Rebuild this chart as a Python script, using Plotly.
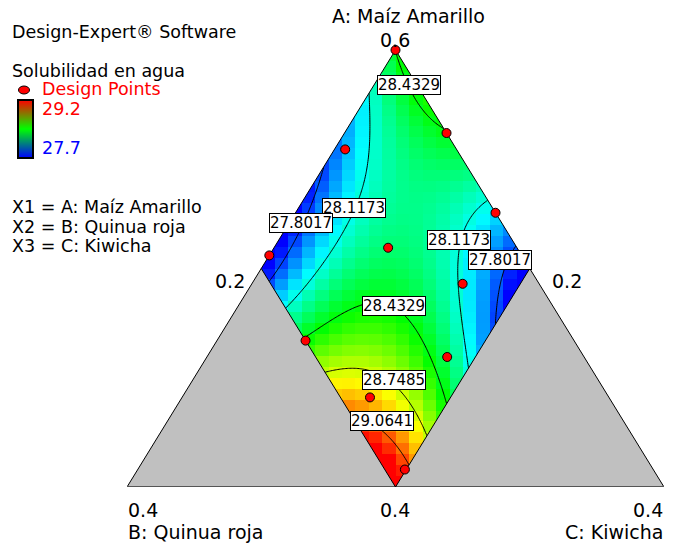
import numpy as np
import plotly.graph_objects as go

# ---------------------------------------------------------------
# Mixture: A (Maíz Amarillo) + B (Quinua roja) + C (Kiwicha) = 0.6
# A is 0.2..0.6, B and C are 0..0.2 inside the constrained region
# ---------------------------------------------------------------
TOTAL = 0.6
B_VERTEX = 0.4   # B value at the lower-left corner of the full triangle
C_VERTEX = 0.4   # C value at the lower-right corner

# Solubilidad en agua: response readings (B, C real fractions -> value)
samp_B = [0.116, 0.143, 0.180, 0.200, 0.000, 0.024, 0.039, 0.052,
          0.035, 0.057, 0.080, 0.105, 0.120, 0.145, 0.182, 0.200,
          0.000, 0.021, 0.052, 0.068, 0.081, 0.091,
          0.004, 0.006, 0.008, 0.007, 0.000, 0.200, 0.166, 0.144,
          0.117, 0.117, 0.113, 0.115, 0.122, 0.125,
          0.200, 0.182, 0.174, 0.153, 0.150, 0.154,
          0.200, 0.186, 0.180, 0.178, 0.177,
          0.000, 0.200, 0.000, 0.200, 0.097, 0.000, 0.083, 0.030]
samp_C = [0.000, 0.008, 0.012, 0.013, 0.180, 0.180, 0.190, 0.200,
          0.000, 0.016, 0.039, 0.048, 0.048, 0.048, 0.040, 0.035,
          0.133, 0.132, 0.147, 0.161, 0.180, 0.200,
          0.005, 0.020, 0.030, 0.048, 0.068, 0.061, 0.079, 0.091,
          0.114, 0.128, 0.150, 0.171, 0.192, 0.200,
          0.093, 0.110, 0.124, 0.155, 0.176, 0.200,
          0.136, 0.162, 0.176, 0.188, 0.200,
          0.000, 0.000, 0.200, 0.200, 0.104, 0.036, 0.008, 0.171]
samp_y = [27.8017] * 8 + [28.1173] * 14 + [28.4329] * 14 + [28.7485] * 6 + \
         [29.0641] * 5 + [28.42, 27.62, 27.62, 29.30, 28.40, 28.52, 27.95, 27.95]

# Design points (B, C real fractions; A = 0.6 - B - C)
dp_B = [0.000, 0.000, 0.083, 0.000, 0.188, 0.096, 0.057, 0.200, 0.102, 0.178, 0.185]
dp_C = [0.000, 0.076, 0.008, 0.149, 0.000, 0.085, 0.157, 0.066, 0.179, 0.140, 0.199]

contour_levels = [27.8017, 28.1173, 28.4329, 28.7485, 29.0641]
z_low, z_high = 27.7, 29.2


# --- response surface: quartic polynomial fitted to the readings ---
def basis(p, q):
    cols = []
    for i in range(5):
        for j in range(5 - i):
            cols.append((p ** i) * (q ** j))
    return np.stack(cols, axis=-1)


P = np.array(samp_B) / 0.2
Q = np.array(samp_C) / 0.2
coef, *_ = np.linalg.lstsq(basis(P, Q), np.array(samp_y), rcond=None)


def surface(x, y):
    """x, y: cartesian frame of the triangle (x = c - b, y = a)."""
    b = (1 - y - x) / 2
    c = (1 - y + x) / 2
    p = np.clip(2 * b, 0, 1)
    q = np.clip(2 * c, 0, 1)
    return basis(p, q) @ coef


def to_xy(B, C):
    b = np.asarray(B) / B_VERTEX
    c = np.asarray(C) / C_VERTEX
    return c - b, 1 - b - c


# coarse cells for the colour map
xc = np.arange(-0.475, 0.5, 0.05)
yc = np.arange(0.0125, 1.0, 0.025)
XC, YC = np.meshgrid(xc, yc)
ZC = surface(XC, YC)

# fine grid for contour lines
xf = np.linspace(-0.52, 0.52, 209)
yf = np.linspace(0.0, 1.0, 201)
XF, YF = np.meshgrid(xf, yf)
ZF = surface(XF, YF)

cscale = [[0.0, "rgb(0,0,255)"], [0.25, "rgb(0,255,255)"], [0.5, "rgb(0,255,0)"],
          [0.75, "rgb(255,255,0)"], [1.0, "rgb(255,0,0)"]]

fig = go.Figure()
fig.add_trace(go.Heatmap(x=xc, y=yc, z=ZC, colorscale=cscale, zmin=z_low, zmax=z_high,
                         showscale=False, hoverinfo="skip"))
fig.add_trace(go.Contour(x=xf, y=yf, z=ZF, showscale=False, hoverinfo="skip",
                         colorscale=[[0, "black"], [1, "black"]],
                         contours=dict(coloring="lines", start=contour_levels[0],
                                       end=contour_levels[-1] + 0.001,
                                       size=contour_levels[1] - contour_levels[0],
                                       showlabels=False),
                         line=dict(width=1)))

# masks: white outside the full triangle, grey for the excluded corners
def poly(xs, ys, color):
    fig.add_trace(go.Scatter(x=xs, y=ys, fill="toself", fillcolor=color, mode="lines",
                             line=dict(width=0, color=color), hoverinfo="skip",
                             showlegend=False))

poly([-0.6, 0.0, 0.0, -0.6, -0.6], [0.4, 1.0, 1.05, 1.05, 0.4], "white")
poly([0.6, 0.0, 0.0, 0.6, 0.6], [0.4, 1.0, 1.05, 1.05, 0.4], "white")
poly([-1.0, -0.5, 0.0, -1.0], [0.0, 0.5, 0.0, 0.0], "#C0C0C0")
poly([0.0, 0.5, 1.0, 0.0], [0.0, 0.5, 0.0, 0.0], "#C0C0C0")

# outlines
fig.add_trace(go.Scatter(x=[-1, 0, 1], y=[0, 1, 0], mode="lines",
                         line=dict(color="black", width=1), hoverinfo="skip", cliponaxis=False))
fig.add_trace(go.Scatter(x=[-1, 1], y=[0, 0], mode="lines",
                         line=dict(color="#555555", width=2), hoverinfo="skip", cliponaxis=False))
fig.add_trace(go.Scatter(x=[-0.5, 0, 0.5], y=[0.5, 0, 0.5], mode="lines",
                         line=dict(color="black", width=1), hoverinfo="skip"))

# design points
dx, dy = to_xy(dp_B, dp_C)
fig.add_trace(go.Scatter(x=dx, y=dy, mode="markers", cliponaxis=False, hoverinfo="skip",
                         marker=dict(size=9, color="red", line=dict(color="black", width=1))))

# contour value boxes
label_pos = [(28.4329, 0.050, 0.921), (28.1173, -0.153, 0.638), (27.8017, -0.352, 0.603),
             (28.1173, 0.238, 0.566), (27.8017, 0.389, 0.519), (28.4329, -0.007, 0.415),
             (28.7485, -0.004, 0.244), (29.0641, -0.052, 0.150)]
annotations = []
for val, lx, ly in label_pos:
    annotations.append(dict(x=lx, y=ly, xref="x", yref="y", text=f"{val:.4f}",
                            showarrow=False, bgcolor="white", bordercolor="black",
                            borderwidth=1, borderpad=0,
                            font=dict(family="DejaVu Sans", size=15, color="black")))

# page layout helpers (pixel -> paper)
L, R, T, B_ = 127, 11, 50, 58
W, H = 675, 545
PW, PH = W - L - R, H - T - B_


def pxx(x):
    return (x - L) / PW


def pxy(y):
    return (H - B_ - y) / PH


def text(s, x, y, xa="left", size=17, color="black"):
    annotations.append(dict(x=pxx(x), y=pxy(y), xref="paper", yref="paper", text=s,
                            showarrow=False, xanchor=xa, yanchor="middle",
                            font=dict(family="DejaVu Sans", size=size, color=color)))


LEG = 17.5
AX = 19
text("Design-Expert® Software", 10, 32, size=LEG)
text("Solubilidad en agua", 10, 71, size=LEG)
text("Design Points", 40, 89, size=LEG, color="red")
text("29.2", 40, 109, size=LEG, color="red")
text("27.7", 40, 148, size=LEG, color="blue")
text("X1 = A: Maíz Amarillo", 10, 207, size=LEG)
text("X2 = B: Quinua roja", 10, 227, size=LEG)
text("X3 = C: Kiwicha", 10, 246, size=LEG)
text("A: Maíz Amarillo", 408, 16, xa="center", size=AX)
text("0.6", 395, 40, xa="center", size=AX)
text("0.2", 230, 281, xa="center", size=AX)
text("0.2", 567, 281, xa="center", size=AX)
text("0.4", 126, 510, size=AX)
text("0.4", 395, 510, xa="center", size=AX)
text("0.4", 665, 510, xa="right", size=AX)
text("B: Quinua roja", 126, 532, size=AX)
text("C: Kiwicha", 665, 532, xa="right", size=AX)

# legend marker and colour strip
shapes = [dict(type="circle", xref="paper", yref="paper", x0=pxx(18.5), x1=pxx(29.5),
               y0=pxy(94), y1=pxy(86), fillcolor="red", line=dict(color="black", width=1))]
top, bot = 100, 158
n = bot - top
for k in range(n):
    t = (k + 0.5) / n
    if t < 0.5:
        col = f"rgb({int(255 * (1 - 2 * t))},{int(255 * 2 * t)},0)"
    else:
        col = f"rgb(0,{int(255 * (2 - 2 * t))},{int(255 * (2 * t - 1))})"
    shapes.append(dict(type="rect", xref="paper", yref="paper", x0=pxx(18), x1=pxx(33),
                       y0=pxy(top + k + 1.05), y1=pxy(top + k), fillcolor=col,
                       line=dict(width=0), layer="above"))
shapes.append(dict(type="rect", xref="paper", yref="paper", x0=pxx(18), x1=pxx(33),
                   y0=pxy(bot), y1=pxy(top), line=dict(color="black", width=2)))

fig.update_layout(
    width=W, height=H, margin=dict(l=L, r=R, t=T, b=B_),
    paper_bgcolor="white", plot_bgcolor="white", showlegend=False,
    xaxis=dict(range=[-1, 1], visible=False, fixedrange=True),
    yaxis=dict(range=[0, 1], visible=False, fixedrange=True),
    annotations=annotations, shapes=shapes,
)

fig.write_html("out.html")
